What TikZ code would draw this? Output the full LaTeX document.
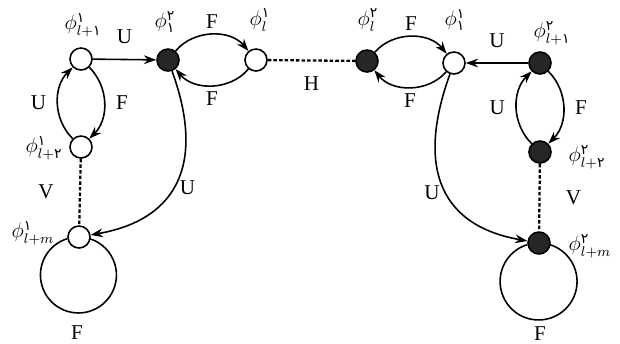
\documentclass[tikz,border=0pt]{standalone}
\usepackage{amsmath}
\usepackage{fontspec}
\setmainfont{Liberation Serif}
\newfontfamily\arabicfont[Script=Arabic]{DejaVu Sans}
\usetikzlibrary{arrows.meta}
\newcommand{\fad}[1]{\text{\arabicfont #1}}
\begin{document}
\begin{tikzpicture}[
        x=0.02cm, y=0.02cm,
        open/.style={draw, circle, fill=white, minimum size=0.44cm, inner sep=0pt, line width=0.9pt},
        full/.style={open, fill=black!85},
        link/.style={line width=0.9pt, -{Stealth[length=7pt, width=5pt]}},
        plain/.style={line width=0.9pt},
        dashlink/.style={line width=1.3pt, dash pattern=on 2pt off 1.2pt},
        every node/.style={font=\fontsize{12}{14}\selectfont},
    ]
    \useasboundingbox (0,0) rectangle (620,343);
    % states
    \node[open] (ph1l1) at (81,284) {};
    \node[full] (ph21) at (168,283) {};
    \node[open] (ph1l) at (256,283) {};
    \node[full] (ph2l) at (367,282) {};
    \node[open] (ph11) at (454,280) {};
    \node[full] (ph2l1) at (540,280) {};
    \node[open] (ph1l2) at (81,196) {};
    \node[open] (ph1lm) at (79,106) {};
    \node[full] (ph2l2) at (540,191) {};
    \node[full] (ph2lm) at (539,100) {};
    % names of the states
    \node (t1l1) at (83,318) {$\phi^{\fad{۱}}_{l+\fad{۱}}$};
    \node (t21) at (165,321) {$\phi^{\fad{۲}}_{\fad{۱}}$};
    \node (t1l) at (260,323) {$\phi^{\fad{۱}}_{l}$};
    \node (t2l) at (368,323) {$\phi^{\fad{۲}}_{l}$};
    \node (t11) at (455,323) {$\phi^{\fad{۱}}_{\fad{۱}}$};
    \node (t2l1) at (552,310) {$\phi^{\fad{۲}}_{l+\fad{۱}}$};
    \node (t1l2) at (44,195) {$\phi^{\fad{۱}}_{l+\fad{۲}}$};
    \node (t2l2) at (587,186) {$\phi^{\fad{۲}}_{l+\fad{۲}}$};
    \node (t1lm) at (33,110) {$\phi^{\fad{۱}}_{l+m}$};
    \node (t2lm) at (590,97) {$\phi^{\fad{۲}}_{l+m}$};
    % top row
    \draw[link] (ph1l1) -- node[above=5pt] {U} (ph21);
    \draw[link] (ph21) to[bend left=50] node[above] {F} (ph1l);
    \draw[link] (ph1l) to[bend left=50] node[below] {F} (ph21);
    \draw[dashlink] (ph1l) -- node[below=5pt] {H} (ph2l);
    \draw[link] (ph2l) to[bend left=50] node[above] {F} (ph11);
    \draw[link] (ph11) to[bend left=50] node[below] {F} (ph2l);
    \draw[link] (ph2l1) -- node[above=5pt] {U} (ph11);
    % left column
    \draw[link] (ph1l1) to[bend left=45] node[right=3pt] {F} (ph1l2);
    \draw[link] (ph1l2) to[bend left=45] node[left=3pt] {U} (ph1l1);
    \draw[dashlink] (ph1l2) -- node[left=11pt] {V} (ph1lm);
    \draw[link] (ph21) to[out=-70, in=10, looseness=1.3] node[pos=0.55, right] {U} (ph1lm);
    \draw[plain] (ph1lm.188) arc[start angle=107, end angle=433, radius=0.76cm];
    \node (f1) at (77,10) {F};
    % right column
    \draw[link] (ph2l1) to[bend left=45] node[right=3pt] {F} (ph2l2);
    \draw[link] (ph2l2) to[bend left=45] node[left=3pt] {U} (ph2l1);
    \draw[dashlink] (ph2l2) -- node[right=11pt] {V} (ph2lm);
    \draw[link] (ph11) to[out=-110, in=170, looseness=1.3] node[pos=0.55, left] {U} (ph2lm);
    \draw[plain] (ph2lm.188) arc[start angle=107, end angle=433, radius=0.77cm];
    \node (f2) at (540,9) {F};
\end{tikzpicture}
\end{document}
